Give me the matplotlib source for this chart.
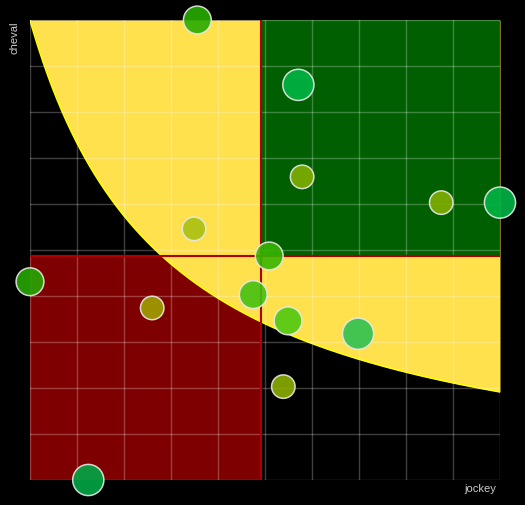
import numpy as np
import matplotlib.pyplot as plt
from matplotlib.patches import Rectangle

# données: jockey (x), cheval (y), taille de la bulle (1-3), couleur
jockey = [6.46, 8.61, 8.69, 11.65, 12.90, 6.39, 7.99, 2.90, 5.50, 7.65, 8.39, 9.88, 8.29, 4.14]
cheval = [10.43, 9.02, 7.02, 6.46, 6.46, 5.89, 5.30, 4.74, 4.17, 4.46, 3.89, 3.61, 2.46, 0.43]
taille = [2, 3, 1, 1, 3, 1, 2, 2, 1, 2, 2, 3, 1, 3]
couleurs = ['#28ac00', '#00b446', '#80b000', '#80b000', '#00b446', '#a8c010', '#38b400',
            '#25a800', '#a0a000', '#44c010', '#50c810', '#2ec050', '#8aae00', '#00a844']

x = np.array(jockey)
y = np.array(cheval)
xmin, xmax = x.min(), x.max()
ymin, ymax = y.min(), y.max()
xm, ym = x.mean(), y.mean()
k = xmin * ymax

fig = plt.figure(figsize=(5.25, 5.05), dpi=100, facecolor='black')
ax = fig.add_axes([30/525, 25/505, 470/525, 460/505])
ax.set_facecolor('black')
ax.set_xlim(xmin, xmax)
ax.set_ylim(ymin, ymax)

# quadrants
ax.add_patch(Rectangle((xmin, ymin), xm - xmin, ym - ymin, color='#7f0000', zorder=0.5, lw=0))
xc = np.linspace(xmin, xmax, 400)
yc = k / xc
ax.fill_between(xc, yc, ymax, color='#ffe04d', zorder=0.7, lw=0)
ax.plot(xc, yc, color='#ffff00', lw=1.2, zorder=0.8)
ax.add_patch(Rectangle((xm, ym), xmax - xm, ymax - ym, color='#005f00', zorder=0.9, lw=0))

# grille
ax.set_xticks(np.linspace(xmin, xmax, 11))
ax.set_yticks(np.linspace(ymin, ymax, 11))
ax.tick_params(length=0, labelbottom=False, labelleft=False)
ax.grid(True, color='white', alpha=0.25, lw=1)
ax.set_axisbelow(False)
for s in ax.spines.values():
    s.set_visible(False)

ax.axvline(xm, color='#b00000', lw=1.5, zorder=3)
ax.axhline(ym, color='#b00000', lw=1.5, zorder=3)

sizes = {1: 286, 2: 400, 3: 503}
ax.scatter(x, y, s=[sizes[t] for t in taille], c=couleurs, alpha=0.9,
           edgecolors='#e8e8e8', linewidths=1.1, zorder=4, clip_on=False)

fig.text(15/525, 1 - 38/505, 'cheval', rotation=90, color='#cccccc', fontsize=8,
         family='Liberation Sans', ha='center', va='center')
fig.text(496/525, 1 - 489/505, 'jockey', color='#cccccc', fontsize=8,
         family='Liberation Sans', ha='right', va='center')

fig.savefig('out.png', dpi=100, facecolor='black')
